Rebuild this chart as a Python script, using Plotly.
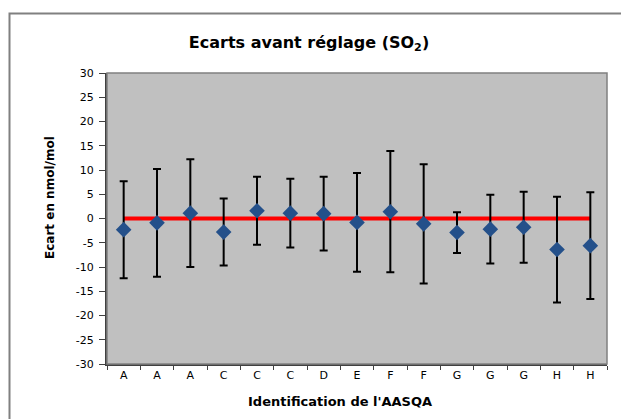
import plotly.graph_objects as go

labels = ["A", "A", "A", "C", "C", "C", "D", "E", "F", "F", "G", "G", "G", "H", "H"]
ecarts = [-2.3, -0.9, 1.1, -2.8, 1.6, 1.1, 1.0, -0.8, 1.4, -1.1, -2.9, -2.2, -1.8, -6.4, -5.6]
incertitudes = [10.0, 11.1, 11.1, 6.9, 7.0, 7.1, 7.6, 10.2, 12.5, 12.3, 4.2, 7.1, 7.3, 10.9, 11.0]
reference = [0] * len(labels)
y_ticks = list(range(-30, 31, 5))
y_ticktext = [str(v) for v in y_ticks]

x = list(range(len(labels)))

fig = go.Figure()
fig.add_trace(go.Scatter(
    x=x, y=reference, mode="lines",
    line=dict(color="#ff0000", width=4), hoverinfo="skip", showlegend=False))
fig.add_trace(go.Scatter(
    x=x, y=ecarts, mode="markers",
    marker=dict(symbol="diamond", size=12, color="#24508a"),
    error_y=dict(type="data", array=incertitudes, visible=True,
                 color="black", thickness=2, width=4),
    showlegend=False))

font = "DejaVu Sans, Arial, sans-serif"
W = 500.0   # plot width in px
H = 291.0   # plot height in px
L, T = 107, 73
fx0 = (9.5 - L) / W
fx1 = (621 - L) / W
fy1 = 1 + (T - 13.5) / H
fy0 = -(419 - (T + H)) / H
frame_path = f"M {fx0},{fy0} L {fx0},{fy1} L {fx1},{fy1}"

fig.update_layout(
    width=621, height=419,
    margin=dict(l=L, r=14, t=T, b=55),
    paper_bgcolor="white",
    plot_bgcolor="#c0c0c0",
    font=dict(family=font, size=11, color="black"),
    title=dict(text="<b>Ecarts avant réglage (SO<sub>2</sub>)</b>",
               x=309 / 621, xref="container", xanchor="center",
               y=1 - 42 / 419, yref="container", yanchor="middle",
               font=dict(size=16, family=font)),
    xaxis=dict(range=[-0.5, 14.5], tickmode="array", tickvals=x, ticktext=labels,
               ticks="", showgrid=False, zeroline=False,
               showline=True, linecolor="#404040", linewidth=2,
               tickfont=dict(size=11), automargin=False,
               minor=dict(tickmode="array", tickvals=[i + 0.5 for i in range(-1, len(labels))],
                          ticks="outside", ticklen=4, tickcolor="#404040", tickwidth=1,
                          showgrid=False)),
    yaxis=dict(range=[-30, 30], tickmode="array", tickvals=y_ticks, ticktext=y_ticktext,
               ticks="outside", ticklen=6, tickcolor="#404040", tickwidth=1,
               showgrid=False, zeroline=False, automargin=False,
               showline=True, linecolor="#404040", linewidth=2,
               tickfont=dict(size=11), ticklabelstandoff=3),
    shapes=[
        dict(type="rect", xref="paper", yref="paper", x0=0, x1=1, y0=0, y1=1,
             line=dict(color="#808080", width=1.5), fillcolor="rgba(0,0,0,0)", layer="above"),
        dict(type="path", xref="paper", yref="paper", path=frame_path,
             line=dict(color="#808080", width=2)),
    ],
    annotations=[
        dict(text="<b>Ecart en nmol/mol</b>", textangle=-90,
             xref="paper", yref="paper", x=(50 - L) / W, y=1 - (198 - T) / H,
             xanchor="center", yanchor="middle", showarrow=False,
             font=dict(size=12, family=font)),
        dict(text="<b>Identification de l'AASQA</b>",
             xref="paper", yref="paper", x=(340 - L) / W, y=1 - (401 - T) / H,
             xanchor="center", yanchor="middle", showarrow=False,
             font=dict(size=13, family=font)),
    ],
)

fig.write_html(
    "out.html", config={"displayModeBar": False},
    post_script=("document.documentElement.style.overflow='hidden';"
                 "document.body.style.overflow='hidden';"
                 "document.body.style.margin='0px';document.body.style.padding='0px';"))
